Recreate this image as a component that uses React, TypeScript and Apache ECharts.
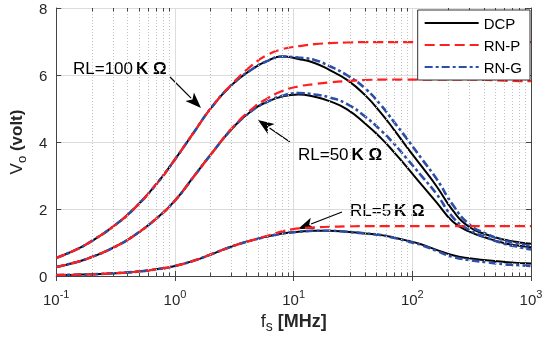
import React, { useEffect, useRef } from "react";
import * as echarts from "echarts";

// Frequencies (MHz) shared by all curves
const FREQ = [0.1, 0.15, 0.2, 0.3, 0.45, 0.7, 1, 1.45, 2, 3, 4.5, 6, 8, 11, 15, 20, 28, 40, 55, 70, 90, 120, 160, 220, 300, 420, 600, 800, 1000];

// RL = 100 kOhm
const DCP_100K = [0.54, 0.8, 1.05, 1.47, 2.0, 2.75, 3.48, 4.3, 5.0, 5.7, 6.18, 6.42, 6.55, 6.48, 6.36, 6.15, 5.86, 5.4, 4.85, 4.37, 3.85, 3.27, 2.68, 1.95, 1.47, 1.24, 1.08, 1.0, 0.96];
const RNP_100K = [0.54, 0.8, 1.05, 1.47, 2.0, 2.75, 3.48, 4.3, 5.0, 5.72, 6.3, 6.6, 6.77, 6.86, 6.92, 6.95, 6.97, 6.98, 6.98, 6.98, 6.98, 6.98, 6.98, 6.98, 6.98, 6.98, 6.98, 6.98, 6.98];
const RNG_100K = [0.54, 0.8, 1.05, 1.47, 2.0, 2.75, 3.48, 4.3, 5.0, 5.7, 6.18, 6.42, 6.55, 6.52, 6.45, 6.27, 6.0, 5.6, 5.08, 4.6, 4.1, 3.5, 2.9, 2.12, 1.55, 1.26, 1.06, 0.96, 0.9];

// RL = 50 kOhm
const DCP_50K = [0.27, 0.42, 0.57, 0.84, 1.2, 1.72, 2.25, 2.98, 3.62, 4.38, 4.95, 5.2, 5.36, 5.42, 5.35, 5.22, 4.98, 4.55, 4.1, 3.7, 3.25, 2.72, 2.2, 1.62, 1.33, 1.14, 0.98, 0.9, 0.86];
const RNP_50K = [0.27, 0.42, 0.57, 0.84, 1.2, 1.72, 2.25, 2.98, 3.62, 4.4, 5.0, 5.3, 5.52, 5.66, 5.73, 5.78, 5.82, 5.85, 5.86, 5.86, 5.86, 5.86, 5.86, 5.86, 5.86, 5.85, 5.83, 5.82, 5.82];
const RNG_50K = [0.27, 0.42, 0.57, 0.84, 1.2, 1.72, 2.25, 2.98, 3.62, 4.38, 4.95, 5.2, 5.38, 5.46, 5.42, 5.33, 5.14, 4.76, 4.33, 3.95, 3.5, 2.98, 2.45, 1.75, 1.38, 1.15, 0.96, 0.86, 0.79];

// RL = 5 kOhm
const DCP_5K = [0.03, 0.04, 0.05, 0.08, 0.12, 0.2, 0.3, 0.46, 0.64, 0.88, 1.07, 1.18, 1.27, 1.32, 1.35, 1.35, 1.32, 1.27, 1.22, 1.15, 1.06, 0.94, 0.78, 0.62, 0.53, 0.47, 0.42, 0.39, 0.37];
const RNP_5K = [0.03, 0.04, 0.05, 0.08, 0.12, 0.2, 0.3, 0.46, 0.64, 0.88, 1.07, 1.2, 1.33, 1.42, 1.45, 1.47, 1.48, 1.49, 1.49, 1.49, 1.49, 1.49, 1.49, 1.49, 1.49, 1.49, 1.49, 1.49, 1.49];
const RNG_5K = [0.03, 0.04, 0.05, 0.08, 0.12, 0.2, 0.3, 0.46, 0.64, 0.88, 1.07, 1.18, 1.27, 1.32, 1.35, 1.35, 1.32, 1.27, 1.22, 1.14, 1.04, 0.92, 0.75, 0.57, 0.48, 0.41, 0.35, 0.32, 0.3];

const Y_TICKS = [0, 2, 4, 6, 8];
const X_MIN = 0.1;
const X_MAX = 1000;
const MINOR_X: number[] = [];
for (let e = -1; e < 3; e++) {
  for (let m = 2; m <= 9; m++) MINOR_X.push(+(m * Math.pow(10, e)).toPrecision(3));
}

const FONT = "'Liberation Sans', Arial, Helvetica, sans-serif";
const BLACK = "#000000";
const RED = "#ff1f1f";
const BLUE = "#2d4ea6";

const pair = (vals: number[]) => FREQ.map((f, i) => [f, vals[i]]);

function arrow(tail: number[], tip: number[], len = 16, half = 6) {
  const dx = tip[0] - tail[0];
  const dy = tip[1] - tail[1];
  const L = Math.hypot(dx, dy);
  const ux = dx / L, uy = dy / L;
  const bx = tip[0] - len * ux, by = tip[1] - len * uy;
  const nx = -uy * half, ny = ux * half;
  return {
    type: "group",
    silent: true,
    children: [
      { type: "line", shape: { x1: tail[0], y1: tail[1], x2: bx + 2 * ux, y2: by + 2 * uy }, style: { stroke: "#000", lineWidth: 1.2 } },
      { type: "polygon", shape: { points: [tip, [bx + nx, by + ny], [bx + 4 * ux, by + 4 * uy], [bx - nx, by - ny]] }, style: { fill: "#000" } },
    ],
  };
}

function annot(x: number, y: number, num: string) {
  return {
    type: "text",
    x,
    y,
    silent: true,
    style: {
      text: `{n|RL=${num}}{b|K Ω}`,
      verticalAlign: "middle",
      rich: {
        n: { fontFamily: FONT, fontSize: 17, fill: "#000" },
        b: { fontFamily: FONT, fontSize: 17, fontWeight: "bold", fill: "#000", padding: [0, 0, 0, 3] },
      },
    },
  };
}

export default function App() {
  const ref = useRef<HTMLDivElement>(null);
  useEffect(() => {
    if (!ref.current) return;
    const chart = echarts.init(ref.current, undefined, { renderer: "svg" });

    const lineSeries = (name: string, vals: number[], color: string, type: any, width: number, z: number) => ({
      name,
      type: "line",
      data: pair(vals),
      symbol: "none",
      smooth: 0.5,
      z,
      silent: true,
      lineStyle: { color, width, type },
      itemStyle: { color },
    });

    const DASH = [10, 5];
    const DASHDOT = [8, 3, 3, 3];

    const minorTicks: any[] = [];
    MINOR_X.forEach((v) => {
      minorTicks.push([{ coord: [v, 0] }, { coord: [v, 0.1] }]);
      minorTicks.push([{ coord: [v, 8] }, { coord: [v, 7.9] }]);
    });

    chart.setOption({
      animation: false,
      textStyle: { fontFamily: FONT },
      grid: { left: 55, right: 19, top: 8, bottom: 61, containLabel: false },
      legend: {
        data: ["DCP", "RN-P", "RN-G"],
        orient: "vertical",
        right: 20,
        top: 10,
        itemWidth: 54,
        itemHeight: 14,
        itemGap: 7,
        padding: [5.5, 8, 5.5, 6],
        borderColor: "#333",
        borderWidth: 1,
        backgroundColor: "#ffffff",
        itemStyle: { opacity: 0 },
        textStyle: { fontSize: 15, color: "#000", fontFamily: FONT },
        selectedMode: false,
        z: 10,
      },
      xAxis: [
        {
          type: "log",
          logBase: 10,
          min: X_MIN,
          max: X_MAX,
          name: "{f|f}{s|s}{b| [MHz]}",
          nameLocation: "middle",
          nameGap: 36,
          nameTextStyle: {
            rich: {
              f: { fontSize: 18, fontFamily: FONT, color: "#262626", verticalAlign: "bottom", padding: [0, 0, 3, 0] },
              s: { fontSize: 14, fontFamily: FONT, color: "#262626", verticalAlign: "bottom" },
              b: { fontSize: 18, fontFamily: FONT, fontWeight: "bold", color: "#262626", verticalAlign: "bottom", padding: [0, 0, 3, 0] },
            },
          },
          axisLine: { show: true, lineStyle: { color: "#444", width: 1 } },
          axisTick: { show: true, inside: true, length: 5, lineStyle: { color: "#444" } },
          axisLabel: {
            margin: 12,
            formatter: (v: number) => `{b|10}{s|${Math.round(Math.log10(v))}}`,
            rich: {
              b: { fontSize: 15, fontFamily: FONT, color: "#262626", verticalAlign: "bottom" },
              s: { fontSize: 11, fontFamily: FONT, color: "#262626", verticalAlign: "bottom", padding: [0, 0, 8, 0] },
            },
          },
          splitLine: { show: true, lineStyle: { color: "#dcdcdc", width: 1 } },
        },
        {
          type: "log",
          logBase: 10,
          min: X_MIN,
          max: X_MAX,
          position: "top",
          axisLine: { show: true, lineStyle: { color: "#444", width: 1 } },
          axisTick: { show: true, inside: true, length: 5, lineStyle: { color: "#444" } },
          axisLabel: { show: false },
          splitLine: { show: false },
        },
      ],
      yAxis: [
        {
          type: "value",
          min: 0,
          max: 8,
          interval: 2,
          name: "{v|V}{o|o}{b| (volt)}",
          nameLocation: "middle",
          nameRotate: 90,
          nameGap: 26,
          nameTextStyle: {
            rich: {
              v: { fontSize: 17, fontFamily: FONT, color: "#262626", verticalAlign: "bottom", padding: [0, 0, 3, 0] },
              o: { fontSize: 13, fontFamily: FONT, color: "#262626", verticalAlign: "bottom" },
              b: { fontSize: 17, fontFamily: FONT, fontWeight: "bold", color: "#262626", verticalAlign: "bottom", padding: [0, 0, 3, 0] },
            },
          },
          axisLine: { show: true, lineStyle: { color: "#444", width: 1 } },
          axisTick: { show: true, inside: true, length: 5, lineStyle: { color: "#444" } },
          axisLabel: { fontSize: 15, color: "#262626", margin: 9, fontFamily: FONT, formatter: (v: number) => (Y_TICKS.includes(v) ? String(v) : "") },
          splitLine: { show: true, lineStyle: { color: "#dcdcdc", width: 1 } },
        },
        {
          type: "value",
          min: 0,
          max: 8,
          interval: 2,
          position: "right",
          axisLine: { show: true, lineStyle: { color: "#444", width: 1 } },
          axisTick: { show: true, inside: true, length: 5, lineStyle: { color: "#444" } },
          axisLabel: { show: false },
          splitLine: { show: false },
        },
      ],
      series: [
        {
          type: "line",
          data: [],
          z: 1,
          silent: true,
          markLine: {
            silent: true,
            symbol: ["none", "none"],
            label: { show: false },
            lineStyle: { color: "#c2c2c2", type: [1, 2], width: 1 },
            data: MINOR_X.map((v) => ({ xAxis: v })),
          },
        },
        {
          type: "line",
          data: [],
          z: 1,
          silent: true,
          markLine: {
            silent: true,
            symbol: ["none", "none"],
            label: { show: false },
            lineStyle: { color: "#444", type: "solid", width: 1 },
            data: minorTicks,
          },
        },
        lineSeries("DCP", DCP_100K, BLACK, "solid", 2, 2),
        lineSeries("DCP", DCP_50K, BLACK, "solid", 2, 2),
        lineSeries("DCP", DCP_5K, BLACK, "solid", 2, 2),
        lineSeries("RN-G", RNG_100K, BLUE, DASHDOT, 2.6, 3),
        lineSeries("RN-G", RNG_50K, BLUE, DASHDOT, 2.6, 3),
        lineSeries("RN-G", RNG_5K, BLUE, DASHDOT, 2.6, 3),
        lineSeries("RN-P", RNP_100K, RED, DASH, 2.2, 4),
        lineSeries("RN-P", RNP_50K, RED, DASH, 2.2, 4),
        lineSeries("RN-P", RNP_5K, RED, DASH, 2.2, 4),
      ],
      graphic: [
        annot(73, 68, "100"),
        arrow([170, 77], [201, 108]),
        annot(298, 154, "50"),
        arrow([290, 142], [258, 120]),
        annot(350, 210, "5"),
        arrow([342, 212], [298, 229]),
      ],
    });

    return () => chart.dispose();
  }, []);

  return <div ref={ref} style={{ position: "fixed", left: 0, top: 0, width: 550, height: 338 }} />;
}
